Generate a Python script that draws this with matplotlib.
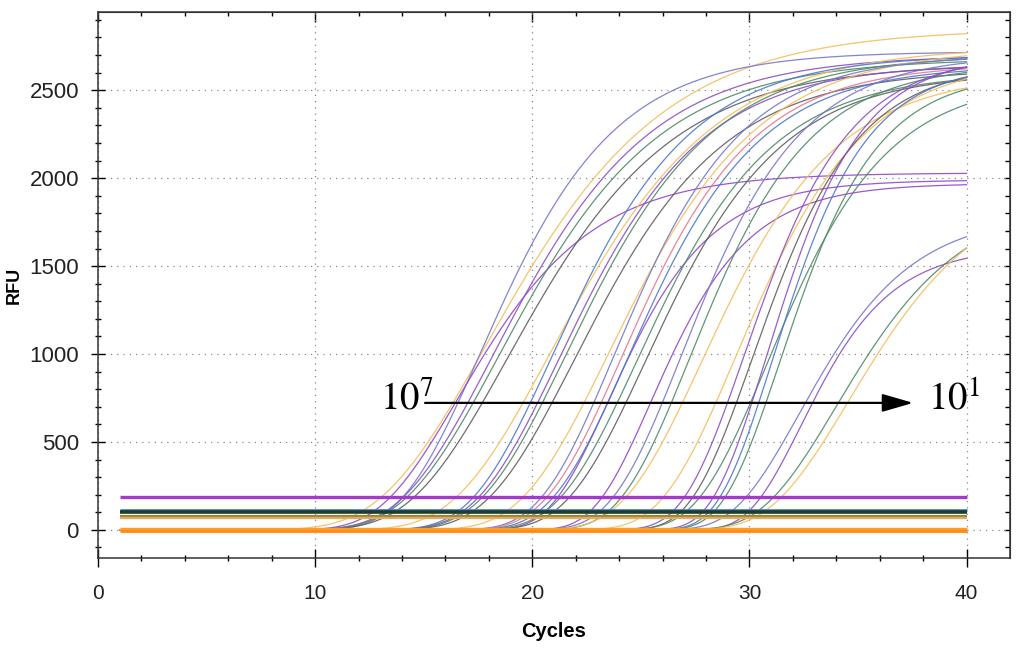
import matplotlib.pyplot as plt
import numpy as np

# Amplification curves: midpoint cycle, spread (cycles),
# plateau RFU and colour of each well
mid_cycle = [17.86, 17.59, 16.57, 18.19, 18.44, 18.85,
             20.85, 20.93, 21.24, 21.54, 21.92,
             23.53, 23.77, 23.5, 24.09, 24.38, 24.8, 25.2,
             25.45, 26.87, 27.24, 27.8,
             29.37, 29.76, 30.13, 30.8,
             30.8, 31.08, 31.4,
             32.3, 32.37, 33.98, 34.58]
spread = [4.8, 3.6, 3.57, 4.2, 4.3, 4.4,
          4.4, 3.7, 3.8, 3.9, 4.0,
          4.0, 3.4, 2.7, 3.5, 3.5, 3.6, 3.6,
          2.6, 3.2, 3.2, 3.6,
          3.4, 2.8, 2.8, 3.2,
          2.5, 2.5, 2.6,
          3.0, 2.4, 3.4, 3.6]
plateau = [2850, 2720, 2030, 2700, 2680, 2650,
           2750, 2700, 2650, 2700, 2620,
           2740, 2700, 1990, 2650, 2640, 2600, 2600,
           1970, 2700, 2650, 2600,
           2680, 2700, 2650, 2560,
           2700, 2650, 2600,
           1800, 1610, 1900, 2000]
curve_colors = ['#f5bd5c', '#7478cc', '#9146c8', '#8a4fc6', '#4f8a67', '#5e5e5e',
                '#f5bd5c', '#4a78d0', '#8a4fc6', '#4f8a67', '#5e5e5e',
                '#f5bd5c', '#7478cc', '#9146c8', '#e4788e', '#4a78d0', '#4f8a67', '#5e5e5e',
                '#9146c8', '#7478cc', '#4f8a67', '#f5bd5c',
                '#f5bd5c', '#8a4fc6', '#5e5e5e', '#4f8a67',
                '#8a4fc6', '#4a78d0', '#4f8a67',
                '#7478cc', '#8a4fc6', '#4f8a67', '#f5bd5c']

# Flat (non amplifying) wells
baseline_rfu = [187, 112, 100, 78, 68, 2, -6]
baseline_colors = ['#a03cc8', '#3c86d8', '#1f3b2b', '#8f8a3c', '#e9a85e', '#ff9a2e', '#ff8a10']
baseline_widths = [2.4, 2.0, 2.6, 1.6, 1.6, 2.4, 2.0]

first_cycle, last_cycle = 1, 40
x_major = [0, 10, 20, 30, 40]
y_major = [0, 500, 1000, 1500, 2000, 2500]


def amplification(cycles, mid, width, top):
    """Gompertz sigmoid used to draw one well from its read-off parameters."""
    return top * np.exp(-np.exp(-(cycles - mid) / width))


plt.rcParams['font.family'] = ['Liberation Sans Narrow', 'Liberation Sans', 'DejaVu Sans']
plt.rcParams['mathtext.fontset'] = 'stix'

fig = plt.figure(figsize=(10.18, 6.52), dpi=100)
ax = fig.add_axes([0.0963, 0.1442, 0.8959, 0.8374])

cycles = np.linspace(first_cycle, last_cycle, 400)
for m, s, p, c in zip(mid_cycle, spread, plateau, curve_colors):
    ax.plot(cycles, amplification(cycles, m, s, p), color=c, lw=0.9, alpha=0.9, zorder=3)

for level, c, w in zip(baseline_rfu, baseline_colors, baseline_widths):
    ax.plot([first_cycle, last_cycle], [level, level], color=c, lw=w, zorder=4,
            solid_capstyle='butt')

ax.set_xlim(0, 42)
ax.set_ylim(-160, 2945)
x_minor = np.arange(0, 42, 2)
y_minor = np.arange(-100, 2901, 100)
ax.set_xticks(x_major)
ax.set_xticks(x_minor, minor=True)
ax.set_yticks(y_major)
ax.set_yticks(y_minor, minor=True)

ax.grid(True, which='major', linestyle=(0, (1, 4)), color='#888888', lw=0.9)
ax.set_axisbelow(True)

ax.tick_params(axis='x', which='major', direction='inout', length=13.5, width=1,
               pad=12, labelsize=15, labelcolor='#222222')
ax.tick_params(axis='x', which='minor', direction='inout', length=5, width=1)
ax.tick_params(axis='y', which='major', direction='inout', length=9.5, width=1,
               pad=9, labelsize=16, labelcolor='#222222')
ax.tick_params(axis='y', which='minor', direction='inout', length=4.5, width=1)
for side in ['left', 'right', 'top', 'bottom']:
    ax.spines[side].set_color('#333333')
    ax.spines[side].set_linewidth(1.1)

# inward-only ticks on the top and right frame
top = ax.secondary_xaxis('top')
top.set_xticks(x_major)
top.set_xticks(x_minor, minor=True)
top.tick_params(which='major', direction='in', length=7, width=1, labeltop=False)
top.tick_params(which='minor', direction='in', length=3, width=1)
top.spines['top'].set_color('#333333')
right = ax.secondary_yaxis('right')
right.set_yticks(y_major)
right.set_yticks(y_minor, minor=True)
right.tick_params(which='major', direction='in', length=4, width=1, labelright=False)
right.tick_params(which='minor', direction='in', length=3.5, width=1)
right.spines['right'].set_color('#333333')

ax.set_xlabel('Cycles', fontsize=14.5, fontweight='bold', labelpad=14)
ax.set_ylabel('RFU', family=['Liberation Sans', 'DejaVu Sans'], fontsize=13,
              fontweight='bold')
ax.yaxis.set_label_coords(-0.082, 0.5)

# Dilution series arrow, 10^7 down to 10^1
ax.annotate('', xy=(37.54, 722), xytext=(15.06, 722),
            arrowprops=dict(arrowstyle='-|>,head_length=1.9,head_width=0.55',
                            mutation_scale=10, lw=1.6, color='black',
                            shrinkA=0, shrinkB=0), zorder=6)
ax.text(13.0, 682, r'$10^7$', fontsize=28, ha='left', va='baseline', zorder=6)
ax.text(38.2, 682, r'$10^1$', fontsize=28, ha='left', va='baseline', zorder=6)

fig.savefig('out.png', dpi=100)
